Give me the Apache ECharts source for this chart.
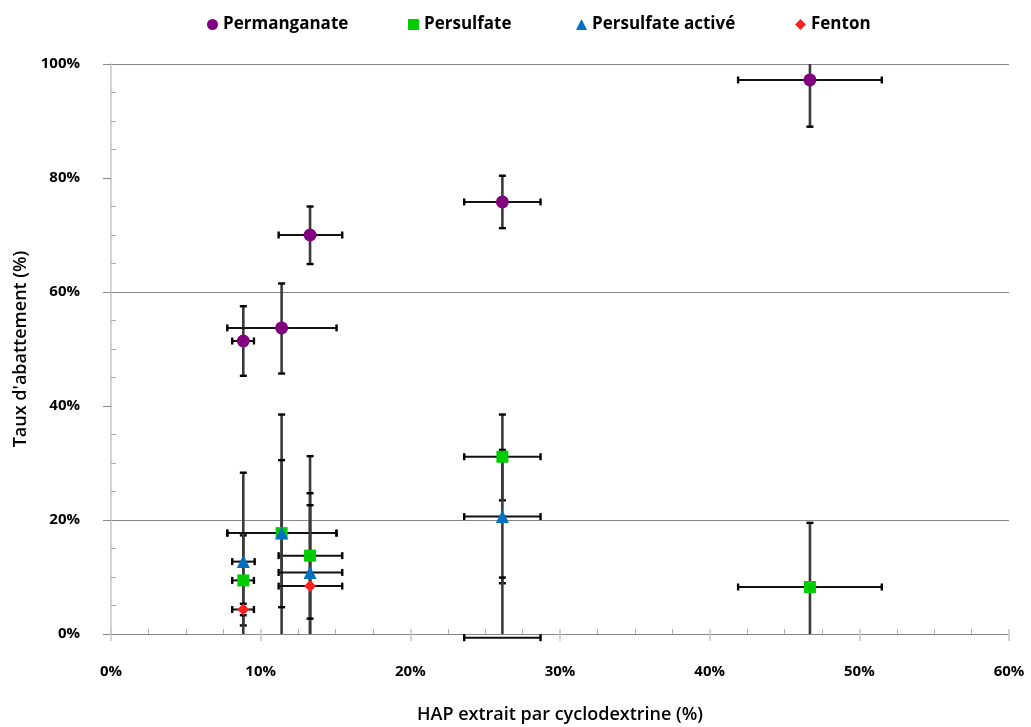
<!DOCTYPE html>
<html><head><meta charset="utf-8">
<script src="https://cdn.jsdelivr.net/npm/echarts@6/dist/echarts.min.js"></script>
<style>html,body{margin:0;padding:0;background:#fff}#c{width:1031px;height:727px}</style>
</head><body><div id="c"></div>
<script>
// ---- data (percent) ----
const seriesNames = ['Permanganate', 'Persulfate', 'Persulfate activé', 'Fenton'];
const xTicks = [0, 10, 20, 30, 40, 50, 60];
const yTicks = [0, 20, 40, 60, 80, 100];

const permX     = [8.84, 11.4, 13.3, 26.15, 46.7];
const permY     = [51.4, 53.7, 70.0, 75.8, 97.2];
const permXLow  = [8.1, 7.77, 11.2, 23.6, 41.9];
const permXHigh = [9.55, 15.07, 15.45, 28.7, 51.5];
const permYLow  = [45.3, 45.7, 64.9, 71.2, 89.0];
const permYHigh = [57.5, 61.5, 75.0, 80.4, 105.4];

const persX     = [8.84, 11.4, 13.3, 26.15, 46.7];
const persY     = [9.4, 17.7, 13.75, 31.1, 8.25];
const persXLow  = [8.1, 7.77, 11.2, 23.6, 41.9];
const persXHigh = [9.55, 15.07, 15.45, 28.7, 51.5];
const persYLow  = [1.5, -3.4, -3.7, 23.45, -3.0];
const persYHigh = [17.3, 38.5, 31.2, 38.5, 19.5];

const actX     = [8.84, 11.4, 13.3, 26.15];
const actY     = [12.7, 17.7, 10.8, 20.6];
const actXLow  = [8.1, 7.77, 11.2, 23.6];
const actXHigh = [9.6, 15.07, 15.45, 28.7];
const actYLow  = [-2.9, 4.7, -3.1, 8.9];
const actYHigh = [28.3, 30.5, 24.7, 32.3];

const fentX     = [8.84, 13.3, 26.15];
const fentY     = [4.3, 8.4, -0.65];
const fentXLow  = [8.1, 11.2, 23.6];
const fentXHigh = [9.55, 15.45, 28.7];
const fentYLow  = [3.3, 2.7, -11.0];
const fentYHigh = [5.3, 22.6, 9.9];

// ---- build ----
const Y_MIN = yTicks[0], Y_MAX = yTicks[yTicks.length - 1];
const X_MIN = xTicks[0], X_MAX = xTicks[xTicks.length - 1];
const colors = ['#800080', '#00CC00', '#0070C0', '#FF2020'];
const symbols = ['circle', 'rect', 'triangle', 'diamond'];
const symbolSizes = [13, 12, 13, 12];

const groups = [
  [permX, permY, permXLow, permXHigh, permYLow, permYHigh],
  [persX, persY, persXLow, persXHigh, persYLow, persYHigh],
  [actX, actY, actXLow, actXHigh, actYLow, actYHigh],
  [fentX, fentY, fentXLow, fentXHigh, fentYLow, fentYHigh]
];

function rows(g) {
  return g[0].map((x, i) => [x, g[1][i], g[2][i], g[3][i], g[4][i], g[5][i]]);
}

function errRender(params, api) {
  const x = api.value(0), y = api.value(1);
  const xl = api.value(2), xh = api.value(3), yl = api.value(4), yh = api.value(5);
  const cap = 3.5;
  const ch = [];
  const ylc = Math.max(yl, Y_MIN), yhc = Math.min(yh, Y_MAX);
  const pLo = api.coord([x, ylc]), pHi = api.coord([x, yhc]);
  const vStyle = { stroke: '#3a3a3a', lineWidth: 2.6 };
  const capStyle = { stroke: '#000', lineWidth: 2.4 };
  ch.push({ type: 'line', shape: { x1: pLo[0], y1: pLo[1], x2: pHi[0], y2: pHi[1] }, style: vStyle });
  if (yl >= Y_MIN) ch.push({ type: 'line', shape: { x1: pLo[0] - cap, y1: pLo[1], x2: pLo[0] + cap, y2: pLo[1] }, style: capStyle });
  if (yh <= Y_MAX) ch.push({ type: 'line', shape: { x1: pHi[0] - cap, y1: pHi[1], x2: pHi[0] + cap, y2: pHi[1] }, style: capStyle });
  const pL = api.coord([xl, y]), pR = api.coord([xh, y]);
  const hStyle = { stroke: '#111', lineWidth: 2 };
  ch.push({ type: 'line', shape: { x1: pL[0], y1: pL[1], x2: pR[0], y2: pR[1] }, style: hStyle });
  ch.push({ type: 'line', shape: { x1: pL[0], y1: pL[1] - cap, x2: pL[0], y2: pL[1] + cap }, style: capStyle });
  ch.push({ type: 'line', shape: { x1: pR[0], y1: pR[1] - cap, x2: pR[0], y2: pR[1] + cap }, style: capStyle });
  return { type: 'group', children: ch };
}

const series = [];
groups.forEach((g, i) => {
  series.push({
    type: 'custom', name: seriesNames[i] + ' err', xAxisIndex: 0, yAxisIndex: 0,
    data: rows(g), encode: { x: 0, y: 1 }, renderItem: errRender, clip: false, z: 2, silent: true
  });
});
groups.forEach((g, i) => {
  series.push({
    type: 'scatter', name: seriesNames[i], xAxisIndex: 0, yAxisIndex: 0,
    data: g[0].map((x, j) => [x, g[1][j]]),
    symbol: symbols[i], symbolSize: symbolSizes[i],
    itemStyle: { color: colors[i], opacity: 1 }, z: 5, clip: true
  });
});

const legendLeft = [202, 403, 571, 790];
const legends = seriesNames.map((n, i) => ({
  data: [n], left: legendLeft[i], top: 11, itemWidth: 11, itemHeight: 11, itemGap: 8,
  textStyle: { fontFamily: 'Open Sans', fontWeight: 'bold', fontSize: 17, color: '#000' },
  selectedMode: false
}));

const font = 'Open Sans';
const chart = echarts.init(document.getElementById('c'), null, { renderer: 'canvas' });
chart.setOption({
  animation: false,
  backgroundColor: '#fff',
  legend: legends,
  grid: { left: 111, right: 22, top: 64, bottom: 93, containLabel: false, outerBoundsMode: 'none' },
  xAxis: [{
    type: 'value', min: X_MIN, max: X_MAX, interval: 10, position: 'bottom',
    name: 'HAP extrait par cyclodextrine (%)', nameLocation: 'middle', nameGap: 72,
    nameTextStyle: { fontFamily: font, fontWeight: 600, fontSize: 18, color: '#000' },
    axisLine: { show: true, lineStyle: { color: '#888', width: 1 } },
    axisTick: { show: true, inside: false, length: 7, lineStyle: { color: '#c8c8c8', width: 1.5 } },
    axisLabel: { formatter: '{value}%', margin: 30, fontFamily: font, fontWeight: 'bold', fontSize: 15, color: '#000' },
    splitLine: { show: false }
  }, {
    type: 'value', min: X_MIN, max: X_MAX, interval: 10, position: 'bottom',
    axisLine: { show: false },
    axisTick: { show: true, inside: true, length: 5, lineStyle: { color: '#c8c8c8', width: 1.5 } },
    minorTick: { show: true, splitNumber: 4, length: 5, lineStyle: { color: '#b0b0b0', width: 1 } },
    axisLabel: { show: false }, splitLine: { show: false }
  }],
  yAxis: [{
    type: 'value', min: Y_MIN, max: Y_MAX, interval: 20,
    name: "Taux d'abattement (%)", nameLocation: 'middle', nameGap: 79, nameRotate: 90,
    nameTextStyle: { fontFamily: font, fontWeight: 600, fontSize: 18, color: '#000' },
    axisLine: { show: true, lineStyle: { color: '#c4c4c4', width: 1.5 } },
    axisTick: { show: true, inside: false, length: 8, lineStyle: { color: '#888', width: 1 } },
    axisLabel: { formatter: '{value}%', margin: 31, fontFamily: font, fontWeight: 'bold', fontSize: 15, color: '#000' },
    splitLine: { show: true, lineStyle: { color: ['#888', '#888', 'rgba(0,0,0,0)', '#888', 'rgba(0,0,0,0)', '#888'], width: 1 } }
  }, {
    type: 'value', min: Y_MIN, max: Y_MAX, interval: 20, position: 'left',
    axisLine: { show: false },
    axisTick: { show: false, inside: true },
    minorTick: { show: true, splitNumber: 4, length: 5, lineStyle: { color: '#aaa', width: 1 } },
    axisLabel: { show: false }, splitLine: { show: false }
  }],
  series: series
});
</script>
</body></html>
